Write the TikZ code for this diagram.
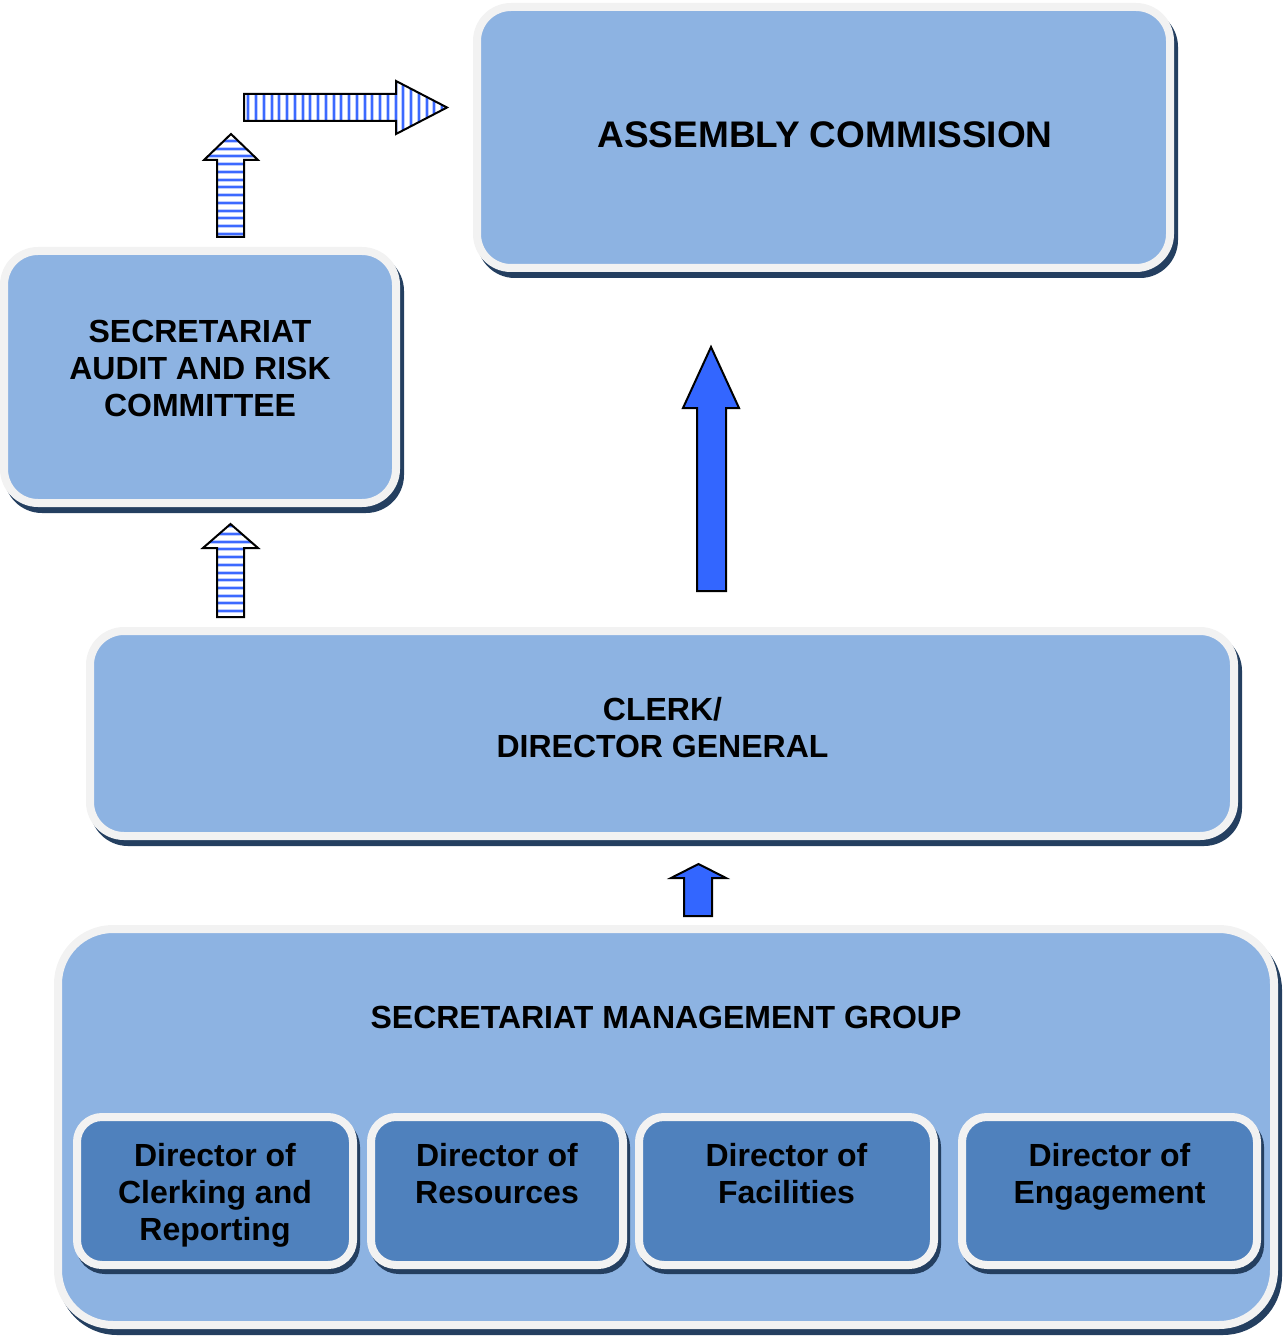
\documentclass[tikz,border=0pt]{standalone}
\usepackage{fontspec}
\setmainfont{Liberation Sans}
\definecolor{lblue}{RGB}{141,179,226}
\definecolor{dblue}{RGB}{79,129,189}
\definecolor{lgray}{RGB}{242,242,242}
\definecolor{shd}{RGB}{36,63,96}
\definecolor{arrblue}{RGB}{51,102,255}
\definecolor{stripeblue}{RGB}{60,105,255}
\definecolor{halo}{RGB}{190,205,255}
\tikzset{
  panel/.style={rectangle, draw=lgray, line width=8pt, fill=lblue, inner sep=0pt,
    preaction={draw=shd, fill=shd, line width=8pt, transform canvas={xshift=4pt,yshift=-6pt}}},
  dirbox/.style={rectangle, draw=lgray, line width=8pt, fill=dblue, inner sep=0pt, rounded corners=25pt,
    minimum height=148pt,
    preaction={draw=shd, fill=shd, line width=8pt, transform canvas={xshift=3pt,yshift=-5pt}}},
  lbl/.style={font=\bfseries\fontsize{32}{37}\selectfont, align=center, inner sep=0pt, text=black},
  dirlbl/.style={lbl, anchor=north},
  blockout/.style={draw=black, line width=2pt, line join=miter},
  stripehalo/.style={draw=halo, line width=4pt},
  stripeline/.style={draw=stripeblue, line width=2pt},
}
\begin{document}
\begin{tikzpicture}[x=1pt,y=-1pt]
\useasboundingbox (0,0) rectangle (1282,1337);

% Boxes
\node[panel, rounded corners=34pt, minimum width=693pt, minimum height=261pt] (ac) at (823.5,137.5) {};
\node[lbl, font=\bfseries\fontsize{37}{44}\selectfont] (actext) at (825,135) {ASSEMBLY COMMISSION};

\node[panel, rounded corners=34pt, minimum width=392pt, minimum height=252pt] (sarc) at (200,377) {};
\node[lbl] (sarctext) at (200,368) {SECRETARIAT\\AUDIT AND RISK\\COMMITTEE};

\node[panel, rounded corners=34pt, minimum width=1144pt, minimum height=205pt] (clerk) at (662,733.5) {};
\node[lbl] (clerktext) at (662.5,728) {CLERK/\\DIRECTOR GENERAL};

\node[panel, rounded corners=55pt, minimum width=1216pt, minimum height=396pt] (smg) at (666,1127) {};
\node[lbl] (smgtext) at (666,1017) {SECRETARIAT MANAGEMENT GROUP};

\node[dirbox, minimum width=276pt] (d1) at (215,1191) {};
\node[dirbox, minimum width=252pt] (d2) at (497,1191) {};
\node[dirbox, minimum width=295pt] (d3) at (786.5,1191) {};
\node[dirbox, minimum width=295pt] (d4) at (1109.5,1191) {};
\node[dirlbl] (d1text) at (215,1143.2) {Director of\\Clerking and\\Reporting};
\node[dirlbl] (d2text) at (497,1143.2) {Director of\\Resources};
\node[dirlbl] (d3text) at (786.5,1143.2) {Director of\\Facilities};
\node[dirlbl] (d4text) at (1109.5,1143.2) {Director of\\Engagement};

% Solid blue block arrows
\draw[blockout, fill=arrblue] (697,591) -- (697,408) -- (683,408) -- (711,347) -- (739,408) -- (726,408) -- (726,591) -- cycle;
\draw[blockout, fill=arrblue] (684,916) -- (684,878) -- (671,878) -- (698.5,864) -- (726,878) -- (712,878) -- (712,916) -- cycle;

% Striped up arrow (lower)
\begin{scope}
  \clip (217,617)--(217,548)--(203,548)--(230.5,524)--(258,548)--(244,548)--(244,617)--cycle;
  \fill[white] (200,520) rectangle (260,620);
  \foreach \k in {-3,...,10} {
    \draw[stripehalo] (200,541.7+7.7*\k) -- (260,541.7+7.7*\k);
    \draw[stripeline] (200,541.7+7.7*\k) -- (260,541.7+7.7*\k);
  }
\end{scope}
\draw[blockout] (217,617)--(217,548)--(203,548)--(230.5,524)--(258,548)--(244,548)--(244,617)--cycle;

% Striped up arrow (upper)
\begin{scope}
  \clip (217,237)--(217,160)--(204,160)--(231,134)--(258,160)--(244,160)--(244,237)--cycle;
  \fill[white] (200,130) rectangle (260,240);
  \foreach \k in {0,...,12} {
    \draw[stripehalo] (200,141+7.75*\k) -- (260,141+7.75*\k);
    \draw[stripeline] (200,141+7.75*\k) -- (260,141+7.75*\k);
  }
\end{scope}
\draw[blockout] (217,237)--(217,160)--(204,160)--(231,134)--(258,160)--(244,160)--(244,237)--cycle;

% Striped right arrow
\begin{scope}
  \clip (244,94)--(396,94)--(396,81)--(447,107.5)--(396,134)--(396,121)--(244,121)--cycle;
  \fill[white] (240,78) rectangle (450,137);
  \foreach \k in {0,...,25} {
    \draw[stripehalo] (248.3+7.75*\k,78) -- (248.3+7.75*\k,137);
    \draw[stripeline] (248.3+7.75*\k,78) -- (248.3+7.75*\k,137);
  }
\end{scope}
\draw[blockout] (244,94)--(396,94)--(396,81)--(447,107.5)--(396,134)--(396,121)--(244,121)--cycle;
\end{tikzpicture}
\end{document}
